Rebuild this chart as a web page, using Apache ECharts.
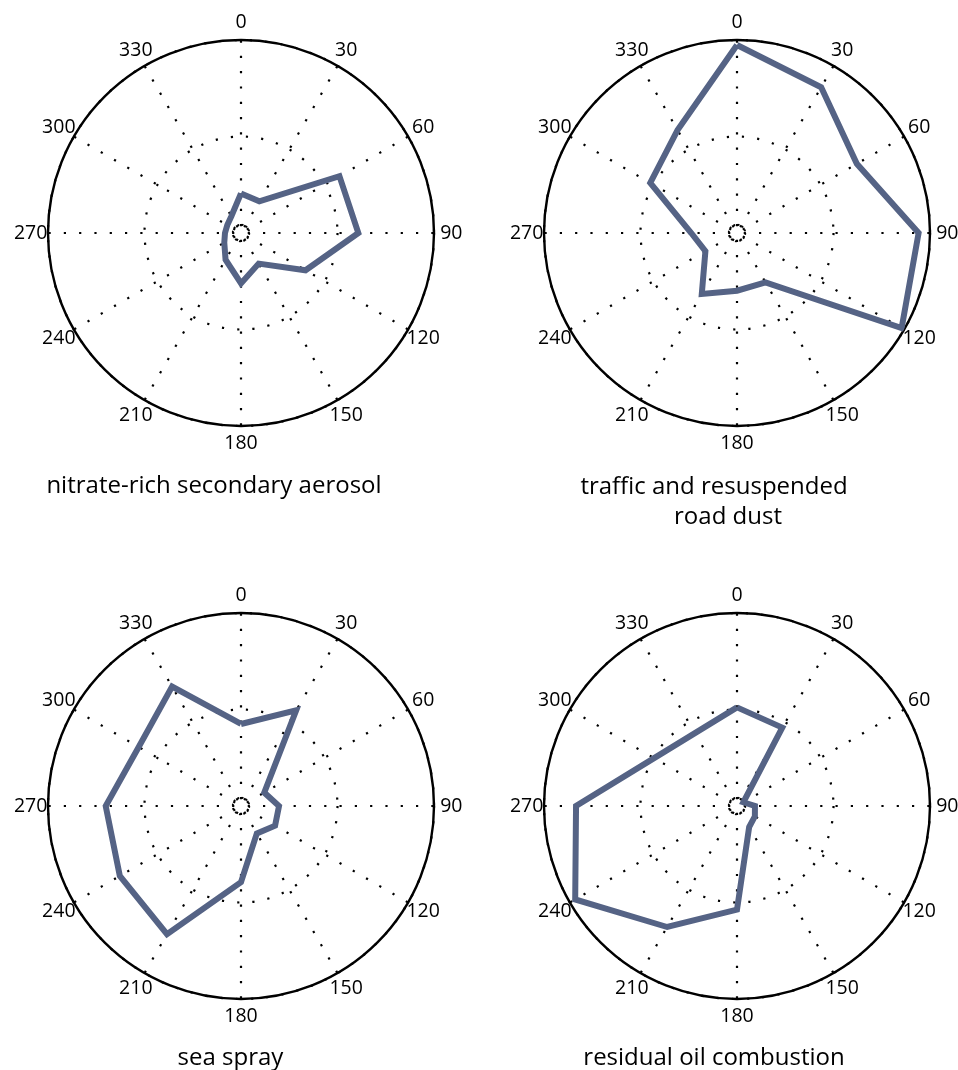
<!DOCTYPE html>
<html>
<head>
<meta charset="utf-8">
<title>Source directional profiles</title>
<script src="https://cdn.jsdelivr.net/npm/echarts@6/dist/echarts.min.js"></script>
<style>
  html, body { margin: 0; padding: 0; background: #ffffff; }
  #chart { width: 958px; height: 1070px; }
</style>
</head>
<body>
<div id="chart"></div>
<script>
// Wind directions (degrees, clockwise from north) and their tick labels
const DIRECTIONS = [0, 30, 60, 90, 120, 150, 180, 210, 240, 270, 300, 330];
const ANGLE_LABELS = ['0', '30', '60', '90', '120', '150', '180', '210', '240', '270', '300', '330'];

// Normalised contribution per direction for each source factor
const NITRATE = [0.205, 0.19, 0.589, 0.608, 0.386, 0.183, 0.261, 0.16, 0.1, 0.083, 0.082, 0.1];
const TRAFFIC = [0.974, 0.872, 0.717, 0.941, 0.985, 0.295, 0.299, 0.365, 0.189, 0.237, 0.519, 0.616];
const SEA_SPRAY = [0.425, 0.572, 0.139, 0.197, 0.204, 0.164, 0.395, 0.767, 0.725, 0.701, 0.612, 0.714];
const RESIDUAL_OIL = [0.511, 0.469, 0.038, 0.093, 0.107, 0.126, 0.537, 0.724, 0.968, 0.834, 0.496, 0.436];

// Panel captions (one entry per caption line)
const TITLE_NITRATE = ['nitrate-rich secondary aerosol'];
const TITLE_TRAFFIC = ['traffic and resuspended', 'road dust'];
const TITLE_SEA = ['sea spray'];
const TITLE_OIL = ['residual oil combustion'];

const LINE_COLOR = '#556385';
const FONT = '"Open Sans", "Noto Sans", sans-serif';

const panels = [
  { values: NITRATE, center: [241, 233], caption: TITLE_NITRATE, captionX: [214], captionY: [486] },
  { values: TRAFFIC, center: [737, 233], caption: TITLE_TRAFFIC, captionX: [714, 728], captionY: [487, 517] },
  { values: SEA_SPRAY, center: [241, 806], caption: TITLE_SEA, captionX: [230.5], captionY: [1058] },
  { values: RESIDUAL_OIL, center: [737, 806], caption: TITLE_OIL, captionX: [714], captionY: [1058] }
];

const OUTER_R = 193;
const INNER_R = 8.3;
const LABEL_RADIUS = 1.09;          // direction labels sit just outside the rim
const dotted = [2.2, 13.1];

const polar = [];
const angleAxis = [];
const radiusAxis = [];
const series = [];
const graphic = [];

panels.forEach((p, i) => {
  // main polar grid
  polar.push({ center: p.center, radius: OUTER_R });
  angleAxis.push({
    polarIndex: 2 * i,
    type: 'value',
    min: 0,
    max: 360,
    interval: 30,
    startAngle: 90,
    clockwise: true,
    axisLine: { show: true, lineStyle: { color: '#000', width: 2.4 } },
    axisTick: { show: false },
    axisLabel: { show: false },
    splitLine: {
      show: true,
      // spokes are stroked from the rim inwards
      lineStyle: { color: '#000', width: 2.2, type: dotted, dashOffset: 14.8, cap: 'butt' }
    }
  });
  radiusAxis.push({
    polarIndex: 2 * i,
    type: 'value',
    min: 0,
    max: 1,
    interval: 0.5,
    axisLine: { show: false },
    axisTick: { show: false },
    axisLabel: { show: false },
    splitLine: {
      show: true,
      showMinLine: false,
      showMaxLine: false,
      lineStyle: { color: '#000', width: 2.2, type: dotted }
    }
  });

  // small dotted ring around the origin
  polar.push({ center: p.center, radius: INNER_R });
  angleAxis.push({
    polarIndex: 2 * i + 1,
    type: 'value',
    min: 0,
    max: 360,
    startAngle: 90,
    axisLine: { show: true, lineStyle: { color: '#000', width: 1.8, type: [1.8, 2.6] } },
    axisTick: { show: false },
    axisLabel: { show: false },
    splitLine: { show: false }
  });
  radiusAxis.push({
    polarIndex: 2 * i + 1,
    type: 'value',
    min: 0,
    max: 1,
    axisLine: { show: false },
    axisTick: { show: false },
    axisLabel: { show: false },
    splitLine: { show: false }
  });

  // closed directional profile
  const data = p.values.map((v, k) => [v, DIRECTIONS[k]]);
  data.push([p.values[0], 360]);
  series.push({
    type: 'line',
    coordinateSystem: 'polar',
    polarIndex: 2 * i,
    data: data,
    symbol: 'none',
    showSymbol: false,
    clip: false,
    lineStyle: { color: LINE_COLOR, width: 6, join: 'miter', cap: 'butt' },
    z: 5
  });

  // direction labels centred outside the rim
  series.push({
    type: 'scatter',
    coordinateSystem: 'polar',
    polarIndex: 2 * i,
    data: DIRECTIONS.map((d, k) => ({ value: [LABEL_RADIUS, d], name: ANGLE_LABELS[k] })),
    symbolSize: 0,
    clip: false,
    silent: true,
    itemStyle: { opacity: 1 },
    label: {
      show: true,
      position: 'inside',
      formatter: (prm) => prm.name,
      color: '#000',
      opacity: 1,
      fontFamily: FONT,
      fontSize: 19.5,
      align: 'center',
      verticalAlign: 'middle'
    },
    z: 4
  });

  // caption under the panel
  p.caption.forEach((line, j) => {
    graphic.push({
      type: 'text',
      x: p.captionX[j],
      y: p.captionY[j],
      style: {
        text: line,
        fill: '#000',
        font: '24px ' + FONT,
        textAlign: 'center',
        textVerticalAlign: 'middle'
      }
    });
  });
});

const chart = echarts.init(document.getElementById('chart'), null, { renderer: 'canvas' });
chart.setOption({
  animation: false,
  backgroundColor: '#ffffff',
  polar: polar,
  angleAxis: angleAxis,
  radiusAxis: radiusAxis,
  series: series,
  graphic: graphic
});
</script>
</body>
</html>
